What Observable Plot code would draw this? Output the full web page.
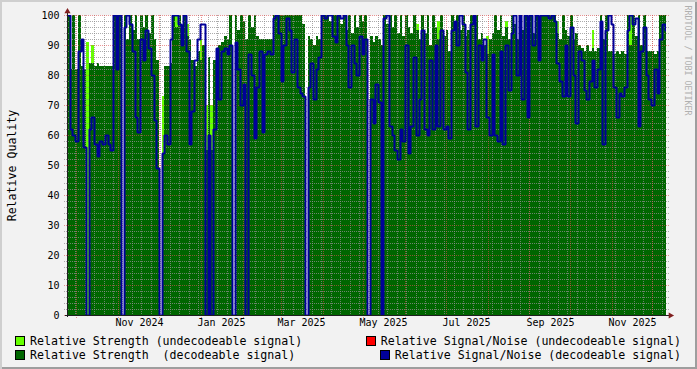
<!DOCTYPE html>
<html><head><meta charset="utf-8">
<script src="https://cdn.jsdelivr.net/npm/d3@7"></script>
<script src="https://cdn.jsdelivr.net/npm/@observablehq/plot@0.6"></script>
<style>
html,body{margin:0;padding:0;background:#f2f2f2;}
#wrap{position:relative;width:697px;height:369px;background:#f2f2f2;box-shadow:inset 2px 2px 0 #cfcfcf, inset -2px -2px 0 #9e9e9e;overflow:hidden;font-family:"DejaVu Sans Mono",monospace;}
#chart svg{display:block;}
.leg{position:absolute;font-size:11.6px;line-height:14px;height:14px;white-space:pre;color:#000;display:flex;align-items:center;}
.sw{display:inline-block;width:8px;height:8px;border:1px solid #000;margin-right:5px;}
</style></head><body>
<div id="wrap"><div id="chart"></div></div>
<script>
// ---- data (2-day buckets starting 2024-09-24) ----
const startDate = "2024-09-24";
const endDate = "2025-12-11";
const bucketDays = 2;
const strength = [
100,82,100,82,100,83,82,0,84,84,
83,84,83,83,83,83,83,100,100,100,
0,100,92,100,95,100,92,100,96,100,
94,100,92,85,0,54,83,83,84,100,
96,100,95,100,93,92,85,83,88,85,
90,55,86,55,85,88,90,91,93,92,
100,0,100,95,100,98,92,100,96,100,
93,92,92,92,92,92,100,100,100,100,
100,100,100,100,100,100,100,97,0,93,
92,90,93,92,100,100,100,98,100,100,
100,97,100,95,100,94,100,96,100,98,
100,0,93,91,93,92,90,100,97,100,
96,100,94,100,93,100,96,94,100,95,
92,100,94,100,90,100,96,92,100,93,
95,88,100,96,100,95,100,93,95,100,
98,100,92,94,90,87,92,94,100,95,
100,93,96,92,100,97,92,100,95,100,
97,100,94,100,96,100,100,100,100,100,
100,94,92,100,95,93,100,92,94,90,
89,88,90,88,89,88,89,100,92,100,
88,88,87,88,87,88,87,100,90,100,
93,100,90,100,88,88,88,87,88,100,
100,100];
const snr = [
100,62,60,58,88,92,56,0,62,66,
57,53,58,57,60,57,55,100,82,100,
0,96,100,97,88,66,61,92,85,95,
89,80,65,49,0,54,60,57,92,100,
100,97,90,100,88,57,68,85,92,97,
97,0,60,0,62,89,72,88,89,87,
90,0,91,82,70,77,0,87,80,59,
76,88,61,87,88,87,99,100,94,78,
90,99,95,81,92,76,74,73,0,76,
84,72,82,86,100,99,100,100,93,91,
100,99,100,90,76,90,84,80,93,87,
92,0,72,64,77,71,0,99,100,63,
60,55,52,62,58,90,54,63,86,60,
72,95,62,60,85,62,90,63,95,62,
63,59,95,98,90,100,97,81,62,97,
100,63,90,85,92,66,60,87,60,58,
88,57,90,75,94,100,80,100,72,100,
66,100,90,100,85,100,100,100,99,100,
98,84,78,73,90,73,96,80,64,88,
85,75,72,78,85,76,82,98,57,95,
100,97,76,66,74,73,76,95,100,97,
99,63,88,96,80,72,70,82,74,92,
97,95];
// undecodeable strength: [bucket index, value]
const undecodeable = [[7,91],[9,90],[35,73],[40,100],[44,97],[49,92],[51,70],[53,70],
  [119,100],[129,97],[137,98],[142,100],[155,93],[162,98],[164,100],[181,98],[194,95],[208,100]];
const yMajor = [0,10,20,30,40,50,60,70,80,90,100];
const xLabels = ["Nov 2024","Jan 2025","Mar 2025","May 2025","Jul 2025","Sep 2025","Nov 2025"];
const xLabelDates = ["2024-11-16","2025-01-16","2025-03-16","2025-05-16","2025-07-16","2025-09-16","2025-11-16"];
const legendLeft = ["Relative Strength (undecodeable signal)", "Relative Strength  (decodeable signal)"];
const legendRight = ["Relative Signal/Noise (undecodeable signal)", "Relative Signal/Noise (decodeable signal)"];
const colors = {undec: "#66ff00", dec: "#006600", snrUndec: "#ff0000", snr: "#000099"};

// ---- build ----
const DAY = 864e5;
const t0 = new Date(startDate + "T00:00:00Z");
const t1 = new Date(endDate + "T00:00:00Z");
const bdate = i => new Date(+t0 + i * bucketDays * DAY);
const rows = strength.map((v, i) => ({date: bdate(i), strength: v, snr: snr[i]}));
rows.push({date: bdate(strength.length), strength: strength[strength.length-1], snr: snr[snr.length-1]});
const minorY = d3.range(0, 101, 2).filter(v => v % 10 !== 0);
const minorX = d3.utcMonday.range(t0, t1);
const majorX = d3.utcMonth.range(t0, t1);
const gridMinor = "rgba(143,143,143,0.75)";
const gridMajor = "rgba(222,79,79,0.6)";

const chart = Plot.plot({
  width: 697, height: 335,
  marginLeft: 67, marginRight: 31, marginTop: 15, marginBottom: 20,
  x: {type: "utc", domain: [t0, t1], round: true, axis: null},
  y: {domain: [0, 100], round: true, axis: null},
  style: {background: "transparent", fontFamily: "DejaVu Sans Mono", fontSize: "10px", color: "black", overflow: "visible"},
  marks: [
    Plot.frame({fill: "white", stroke: "none"}),
    Plot.rect(undecodeable, {x1: d => bdate(d[0]), x2: d => bdate(d[0] + 1), y1: 0, y2: d => d[1], fill: colors.undec, clip: true, shapeRendering: "crispEdges"}),
    Plot.areaY(rows, {x: "date", y: "strength", curve: "step-after", fill: colors.dec, clip: true, shapeRendering: "crispEdges"}),
    Plot.ruleY(minorY, {stroke: gridMinor, strokeDasharray: "1,1", insetLeft: -3, insetRight: -3}),
    Plot.ruleX(minorX, {stroke: gridMinor, strokeDasharray: "1,1", insetBottom: -2}),
    Plot.ruleY(yMajor, {stroke: gridMajor, strokeDasharray: "1,1", insetLeft: -3, insetRight: -3}),
    Plot.ruleX(majorX, {stroke: gridMajor, strokeDasharray: "1,1", insetBottom: -3}),
    Plot.line(rows, {x: "date", y: "snr", curve: "step-after", stroke: colors.snr, strokeWidth: 2, strokeLinejoin: "miter", strokeLinecap: "butt", clip: true}),
    Plot.ruleY([0], {stroke: "#1f1f1f", insetLeft: -2, insetRight: -4}),
    Plot.ruleX([t0], {stroke: "#1f1f1f", insetTop: -3, insetBottom: -2}),
    Plot.dot([0], {x: () => t0, y: () => 100, symbol: "triangle", r: 2.3, fill: "#801f1f", stroke: "none", dy: -4}),
    Plot.dot([0], {x: () => t1, y: () => 0, symbol: "triangle", r: 2.3, fill: "#801f1f", stroke: "none", rotate: 90, dx: 4}),
    Plot.text(yMajor, {frameAnchor: "left", y: d => d, text: d => String(d), textAnchor: "end", dx: -8, fontSize: 10}),
    Plot.text(xLabelDates, {x: d => new Date(d + "T00:00:00Z"), frameAnchor: "bottom", text: (d, i) => xLabels[i], dy: 10, fontSize: 10}),
    Plot.text(["Relative Quality"], {frameAnchor: "left", rotate: -90, textAnchor: "middle", lineAnchor: "middle", dx: -55, fontSize: 11.6}),
    Plot.text(["RRDTOOL / TOBI OETIKER"], {frameAnchor: "top-right", rotate: 90, textAnchor: "start", lineAnchor: "middle", dx: 21, dy: -10, fill: "#b0b0b0", fontSize: 8.3})
  ]
});
const wrap = document.getElementById("wrap");
document.getElementById("chart").appendChild(chart);

function legendItem(text, color, pos) {
  const div = document.createElement("div");
  div.className = "leg";
  Object.assign(div.style, pos);
  const sw = document.createElement("span");
  sw.className = "sw"; sw.style.background = color;
  div.appendChild(sw);
  div.appendChild(document.createTextNode(text));
  wrap.appendChild(div);
}
legendItem(legendLeft[0], colors.undec, {left: "15px", top: "334px"});
legendItem(legendLeft[1], colors.dec, {left: "15px", top: "348px"});
legendItem(legendRight[0], colors.snrUndec, {right: "16px", top: "334px"});
legendItem(legendRight[1], colors.snr, {right: "16px", top: "348px"});
</script>
</body></html>
